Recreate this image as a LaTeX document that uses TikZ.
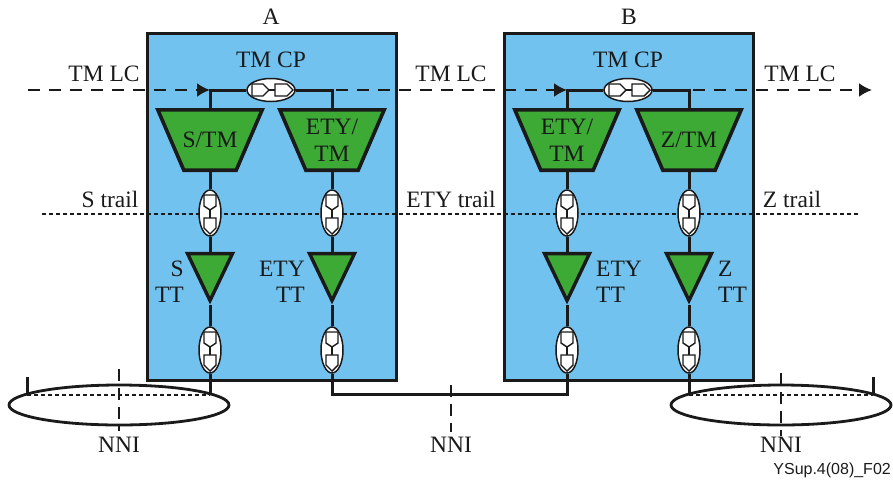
\documentclass[tikz,border=0pt]{standalone}
\usepackage{fontspec}
\setmainfont{Liberation Serif}
\setsansfont{Liberation Sans}
\usetikzlibrary{shapes.geometric, arrows.meta, backgrounds}

\definecolor{boxblue}{HTML}{72C2EF}
\definecolor{adaptgreen}{HTML}{3DAA35}
\definecolor{inkblack}{HTML}{1A1A1A}

\tikzset{
  lbl/.style={font=\fontsize{23.5}{26}\selectfont, text=inkblack, inner sep=0pt},
  domainbox/.style={draw=inkblack, line width=3pt, fill=boxblue},
  linkline/.style={draw=inkblack, line width=3pt},
  lcline/.style={draw=inkblack, line width=2.2pt, dash pattern=on 12pt off 9pt},
  trailline/.style={draw=inkblack, line width=2.7pt, dash pattern=on 4pt off 3pt},
  nniline/.style={draw=inkblack, line width=2.6pt, dash pattern=on 12pt off 7pt},
  linktip/.style={-{Latex[length=13pt, width=14pt]}},
  subnet/.style={ellipse, draw=inkblack, line width=2.8pt, fill=white,
    minimum width=220, minimum height=40, inner sep=0pt},
  trapbox/.style={minimum width=104, minimum height=60, inner sep=0pt, align=center,
    font=\fontsize{23.5}{27}\selectfont, text=inkblack},
  trapfill/.style={draw=inkblack, line width=3.6pt, fill=adaptgreen, line join=miter},
  termtri/.style={isosceles triangle, isosceles triangle stretches=true,
    shape border rotate=-90, draw=inkblack, line width=3.4pt, fill=adaptgreen,
    minimum width=45, minimum height=47, inner sep=0pt, anchor=apex},
  adaptoval/.style={ellipse, draw=inkblack, line width=1.5pt, fill=white, inner sep=0pt},
  adaptline/.style={draw=inkblack, line width=1.4pt},
  vadapt/.pic={
    \node [adaptoval, minimum width=22, minimum height=46] (-oval) at (0,0) {};
    \draw [adaptline] (-6,-18) -- (6,-18) -- (6,-7) -- (0,-3) -- (-6,-7) -- cycle;
    \draw [adaptline] (0,-3) -- (0,5);
    \draw [adaptline] (-6,5) -- (6,5) -- (6,15) -- (0,21) -- (-6,15) -- cycle;
  },
  hadapt/.pic={
    \node [adaptoval, minimum width=48, minimum height=23] (-oval) at (0,0) {};
    \draw [adaptline] (-19,-6) -- (-8,-6) -- (-2,0) -- (-8,6) -- (-19,6) -- cycle;
    \draw [adaptline] (-2,0) -- (4,0);
    \draw [adaptline] (4,-6) -- (16,-6) -- (22,0) -- (16,6) -- (4,6) -- cycle;
  }
}

\begin{document}
\begin{tikzpicture}[x=1pt, y=-1pt]
\useasboundingbox (0,0) rectangle (893,482);

% Trail and layer end points
\coordinate (lcstart) at (28,90);
\coordinate (lcA) at (210,90);
\coordinate (lcB) at (567,90);
\coordinate (lcend) at (872,90);
\coordinate (trailstart) at (42,214);
\coordinate (trailend) at (860,214);
\coordinate (linkS) at (210,395);
\coordinate (leftend) at (27,395);
\coordinate (lefttop) at (27,377);
\coordinate (linkZ) at (689,395);
\coordinate (rightend) at (873,395);
\coordinate (righttop) at (873,377);
\coordinate (midA) at (332,394);
\coordinate (midB) at (567,394);

% Trapezia, triangles and adaptation ovals of each column
\foreach \col/\xx/\lab in {
  sa/210/{S/TM},
  ea/332/{ETY/\\TM},
  eb/567/{ETY/\\TM},
  zb/689/{Z/TM}} {
  \node [trapbox] (trap\col) at (\xx,140) {\lab};
  \pic (up\col) at (\xx,213) {vadapt};
  \node [termtri] (tri\col) at (\xx,305) {};
  \pic (low\col) at (\xx,350) {vadapt};
}

% Characteristic point ovals
\pic (cpA) at (271,90) {hadapt};
\pic (cpB) at (628,90) {hadapt};

% Everything that runs behind the nodes
\begin{pgfonlayer}{background}
  \node [domainbox, minimum width=249, minimum height=347, inner sep=0pt] (boxA) at (271.5,206.5) {};
  \node [domainbox, minimum width=249, minimum height=347, inner sep=0pt] (boxB) at (628.5,206.5) {};
  \node [subnet] (netL) at (119,405) {};
  \node [subnet] (netR) at (781,405) {};

  \draw [lcline, linktip] (lcstart) -- (lcA);
  \draw [lcline, linktip] (lcA) -- (lcB);
  \draw [lcline, linktip] (lcB) -- (lcend);
  \draw [trailline] (trailstart) -- (trailend);

  \draw [linkline] (trapsa.north) |- (cpA-oval.west);
  \draw [linkline] (cpA-oval.east) -| (trapea.north);
  \draw [linkline] (trapeb.north) |- (cpB-oval.west);
  \draw [linkline] (cpB-oval.east) -| (trapzb.north);

  \foreach \col in {sa, ea, eb, zb} {
    \draw [trapfill] (trap\col.north west) -- (trap\col.north east)
      -- ([xshift=-26pt]trap\col.south east) -- ([xshift=26pt]trap\col.south west) -- cycle;
    \draw [linkline] (trap\col.south) -- (up\col-oval.north);
    \draw [linkline] (up\col-oval.south) -- (tri\col.lower side);
    \draw [linkline] (tri\col.apex) -- (low\col-oval.north);
  }

  \draw [linkline] (lowsa-oval.south) -- (linkS);
  \draw [linkline] (lowzb-oval.south) -- (linkZ);
  \draw [linkline] (lowea-oval.south) |- (midA) -- (midB) -- (loweb-oval.south);
  \draw [linkline] (leftend) -- (lefttop);
  \draw [linkline] (rightend) -- (righttop);
  \draw [trailline] (leftend) -- (linkS);
  \draw [trailline] (linkZ) -- (rightend);
\end{pgfonlayer}

% NNI markers and labels
\foreach \nam/\xx/\ya/\yb in {nl/119/369/431, nm/451/385/432, nr/781/373/436} {
  \node [lbl] (nni\nam) at (\xx,445) {NNI};
  \coordinate (top\nam) at (\xx,\ya);
  \coordinate (bot\nam) at (\xx,\yb);
  \draw [nniline] (top\nam) -- (bot\nam);
}

% Labels
\node [lbl] (titleA) at (271,17) {A};
\node [lbl] (titleB) at (629,17) {B};
\node [lbl] (cplabA) at (271,60) {TM CP};
\node [lbl] (cplabB) at (628,60) {TM CP};
\foreach \nam/\xx/\txt in {a/104/TM LC, b/451/TM LC, c/800/TM LC} {
  \node [lbl] (lc\nam) at (\xx,74) {\txt};
}
\foreach \nam/\xx/\txt in {s/110/S trail, e/451/ETY trail, z/792/Z trail} {
  \node [lbl] (trail\nam) at (\xx,199) {\txt};
}
\node [lbl, anchor=east, align=right] (ttsa) at (184,282) {S\\TT};
\node [lbl, anchor=east, align=right] (ttea) at (305,282) {ETY\\TT};
\node [lbl, anchor=west, align=left] (tteb) at (596,282) {ETY\\TT};
\node [lbl, anchor=west, align=left] (ttzb) at (718,282) {Z\\TT};
\node [lbl, anchor=east, font=\sffamily\fontsize{16}{18}\selectfont] (figid) at (891,470) {YSup.4(08)\_F02};

\end{tikzpicture}
\end{document}
